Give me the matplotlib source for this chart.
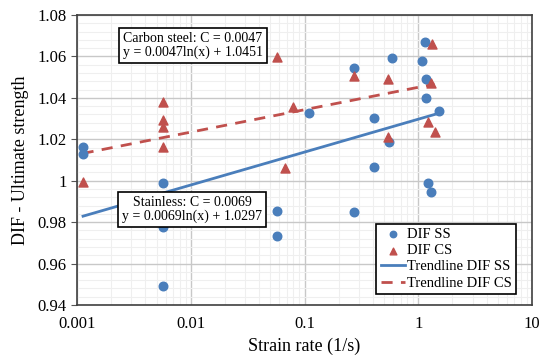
import numpy as np
import matplotlib.pyplot as plt
from matplotlib.ticker import NullFormatter, MultipleLocator

plt.rcParams['font.family'] = ['Liberation Serif', 'DejaVu Serif']

# strain rate (1/s) and DIF for stainless steel
ss_rate = [0.00113, 0.00113, 0.0057, 0.0057, 0.0057, 0.057, 0.057, 0.110,
           0.273, 0.273, 0.412, 0.412, 0.589, 0.555, 1.07, 1.135, 1.166,
           1.17, 1.52, 1.23, 1.29]
ss_dif = [1.0164, 1.0127, 0.9987, 0.9775, 0.9491, 0.9854, 0.9731, 1.0328,
          1.0544, 0.9850, 1.0304, 1.0065, 1.0591, 1.0185, 1.0579, 1.0670,
          1.0492, 1.0400, 1.0338, 0.9987, 0.9944]

# strain rate (1/s) and DIF for carbon steel
cs_rate = [0.00112, 0.0057, 0.0057, 0.0057, 0.0057, 0.057, 0.068, 0.080,
           0.273, 0.54, 0.54, 1.32, 1.29, 1.21, 1.39]
cs_dif = [0.9995, 1.0381, 1.0293, 1.0261, 1.0164, 1.0599, 1.0060, 1.0354,
          1.0505, 1.0490, 1.0212, 1.0659, 1.0470, 1.0285, 1.0234]

# logarithmic trendline coefficients y = a ln(x) + b
ss_a, ss_b = 0.0069, 1.0297
cs_a, cs_b = 0.0047, 1.0451

y_ticks = [0.94, 0.96, 0.98, 1.00, 1.02, 1.04, 1.06, 1.08]
y_labels = ['0.94', '0.96', '0.98', '1', '1.02', '1.04', '1.06', '1.08']
x_ticks = [0.001, 0.01, 0.1, 1, 10]
x_labels = ['0.001', '0.01', '0.1', '1', '10']

blue = '#4a7ebb'
red = '#c0504d'

fig = plt.figure(figsize=(5.42, 3.58), dpi=100)
ax = fig.add_axes([77/542, 1 - 305/358, (532 - 77)/542, (305 - 15)/358])

ax.scatter(ss_rate, ss_dif, s=38, color=blue, marker='o', zorder=3, label='DIF SS')
ax.scatter(cs_rate, cs_dif, s=42, color=red, marker='^', zorder=3, label='DIF CS')

xs = np.geomspace(min(ss_rate), max(ss_rate), 50)
ax.plot(xs, ss_a*np.log(xs) + ss_b, color=blue, lw=2, zorder=2, label='Trendline DIF SS')
xc = np.geomspace(min(cs_rate), max(cs_rate), 50)
ax.plot(xc, cs_a*np.log(xc) + cs_b, color=red, lw=2, ls=(0, (4, 3)), zorder=2,
        label='Trendline DIF CS')

ax.set_xscale('log')
ax.set_xlim(0.001, 10)
ax.set_ylim(0.94, 1.08)
ax.set_xticks(x_ticks)
ax.set_xticklabels(x_labels)
ax.xaxis.set_minor_formatter(NullFormatter())
ax.set_yticks(y_ticks)
ax.set_yticklabels(y_labels)
ax.yaxis.set_minor_locator(MultipleLocator(0.004))

ax.grid(which='major', color='#c8c8c8', lw=1)
ax.grid(which='minor', color='#efefef', lw=0.8)
ax.set_axisbelow(True)
ax.tick_params(which='major', labelsize=12, length=4, color='#555555')
ax.tick_params(which='minor', length=0)
ax.tick_params(axis='x', length=0, pad=8)
for sp in ax.spines.values():
    sp.set_color('#404040')
    sp.set_linewidth(1.2)

ax.set_xlabel('Strain rate (1/s)', fontsize=13, labelpad=4)
ax.set_ylabel('DIF - Ultimate strength', fontsize=13, labelpad=6)

box = dict(boxstyle='square,pad=0.3', fc='white', ec='black', lw=1.2)
ax.text(0.0104, 1.0653, 'Carbon steel: C = 0.0047\ny = 0.0047ln(x) + 1.0451',
        fontsize=10, ha='center', va='center', bbox=box, linespacing=1.0, zorder=4)
ax.text(0.0103, 0.9861, 'Stainless: C = 0.0069\ny = 0.0069ln(x) + 1.0297',
        fontsize=10, ha='center', va='center', bbox=box, linespacing=1.0, zorder=4)

leg = ax.legend(loc='lower right', bbox_to_anchor=(0.965, 0.038), borderaxespad=0,
                fontsize=10.5, frameon=True, fancybox=False, edgecolor='black',
                framealpha=1, handlelength=1.7, handletextpad=0.1, borderpad=0.3,
                labelspacing=0.2, markerscale=0.75)
leg.get_frame().set_linewidth(1.2)

fig.savefig('out.png', dpi=100)
